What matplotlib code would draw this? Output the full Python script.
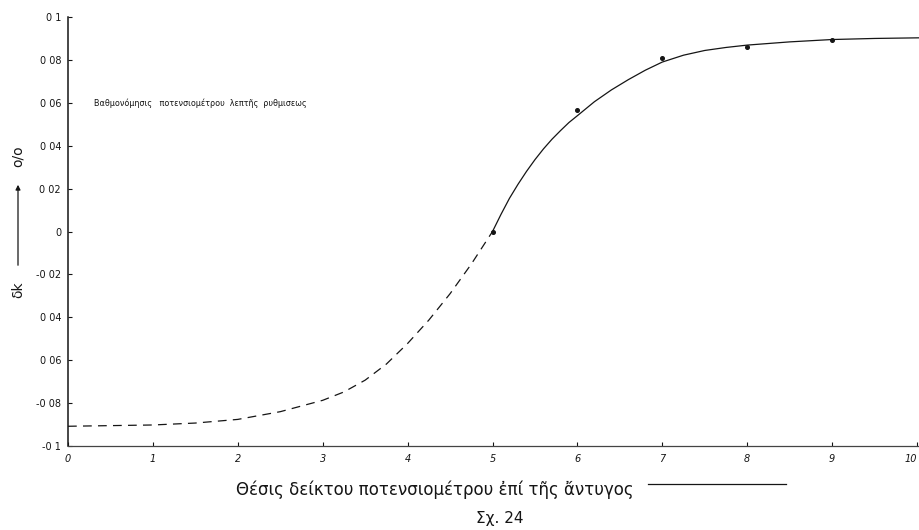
import matplotlib
matplotlib.use('Agg')
import matplotlib.pyplot as plt

# μετρήσεις (σημεία) και καμπύλη βαθμονομήσεως
point_x = [5, 6, 7, 8, 9]
point_y = [0.0, 0.0565, 0.0811, 0.0859, 0.0894]

# συνεχής καμπύλη (μετρημένη περιοχή)
solid_x = [5.0, 5.1, 5.2, 5.3, 5.4, 5.5, 5.6, 5.7, 5.8, 5.9, 6.0, 6.2, 6.4, 6.6, 6.8, 7.0,
           7.25, 7.5, 7.75, 8.0, 8.5, 9.0, 9.5, 10.04]
solid_y = [0.0, 0.008, 0.0155, 0.022, 0.028, 0.0335, 0.0385, 0.043, 0.047, 0.0508, 0.054,
           0.0605, 0.066, 0.0708, 0.0752, 0.079, 0.0822, 0.0844, 0.0858, 0.0869, 0.0884,
           0.0895, 0.0900, 0.0903]

# διακεκομμένη καμπύλη (προέκτασις)
dashed_x = [0.0, 1.0, 1.5, 2.0, 2.5, 3.0, 3.25, 3.5, 3.75, 4.0, 4.25, 4.5, 4.75, 5.0]
dashed_y = [-0.0908, -0.0902, -0.0893, -0.0876, -0.0840, -0.0787, -0.0748, -0.0693,
            -0.0618, -0.0522, -0.0413, -0.0290, -0.0152, 0.0]

x_ticks = list(range(0, 11))
x_labels = ['0', '1', '2', '3', '4', '5', '6', '7', '8', '9', '10']
y_ticks = [-0.1, -0.08, -0.06, -0.04, -0.02, 0.0, 0.02, 0.04, 0.06, 0.08, 0.1]
y_labels = ['-0 1', '-0 08', '0 06', '0 04', '-0 02', '0', '0 02', '0 04', '0 06', '0 08', '0 1']

ink = '#151515'

fig = plt.figure(figsize=(9.2, 5.3), dpi=100)
ax = fig.add_axes([68 / 920, 1 - 446 / 530, 1 - 68 / 920, (446 - 17) / 530])

ax.plot(solid_x, solid_y, color=ink, lw=0.9)
ax.plot(dashed_x, dashed_y, color=ink, lw=0.9, linestyle=(0, (7, 5)))
ax.plot(point_x, point_y, 'o', color=ink, ms=2.6, zorder=3)

ax.set_xlim(0, 10.035)
ax.set_ylim(-0.1, 0.1)

ax.spines['top'].set_visible(False)
ax.spines['right'].set_visible(False)
ax.spines['left'].set_linewidth(1.1)
ax.spines['bottom'].set_linewidth(0.9)
ax.spines['left'].set_color(ink)
ax.spines['bottom'].set_color('#444444')

ax.set_xticks(x_ticks)
ax.set_xticklabels(x_labels, fontsize=7, style='italic', color=ink)
ax.get_xticklabels()[-1].set_horizontalalignment('right')
ax.set_yticks(y_ticks)
ax.set_yticklabels(y_labels, fontsize=7, color=ink)
ax.tick_params(axis='both', direction='in', length=3, width=0.8, color=ink)
ax.tick_params(axis='x', pad=6)
ax.tick_params(axis='y', pad=5)

# τίτλος μέσα στο διάγραμμα
ax.text(0.31, 0.06, 'Βαθμονόμησις   ποτενσιομέτρου  λεπτῆς  ρυθμισεως',
        fontsize=5.8, color=ink, va='center', ha='left')

# άξων y: δk —→ o/o
fig.text(18 / 920, 1 - 290 / 530, 'δk', rotation=90, fontsize=10,
         ha='center', va='center', color=ink)
fig.add_artist(matplotlib.patches.FancyArrowPatch(
    (18 / 920, 1 - 268 / 530), (18 / 920, 1 - 182 / 530),
    transform=fig.transFigure, arrowstyle='-|>', mutation_scale=7,
    lw=0.9, color=ink))
fig.text(18 / 920, 1 - 156 / 530, 'o/o', rotation=90, fontsize=10,
         ha='center', va='center', color=ink)

# άξων x
fig.text(435 / 920, 1 - 490 / 530, 'Θέσις δείκτου ποτενσιομέτρου ἐπί τῆς ἄντυγος',
         fontsize=12, ha='center', va='center', color=ink)
fig.add_artist(matplotlib.lines.Line2D([648 / 920, 786 / 920], [1 - 484 / 530, 1 - 484 / 530],
                                       transform=fig.transFigure, lw=0.9, color=ink))
fig.text(500 / 920, 1 - 518 / 530, 'Σχ. 24', fontsize=11,
         ha='center', va='center', color=ink)

fig.savefig('out.png', dpi=100)
